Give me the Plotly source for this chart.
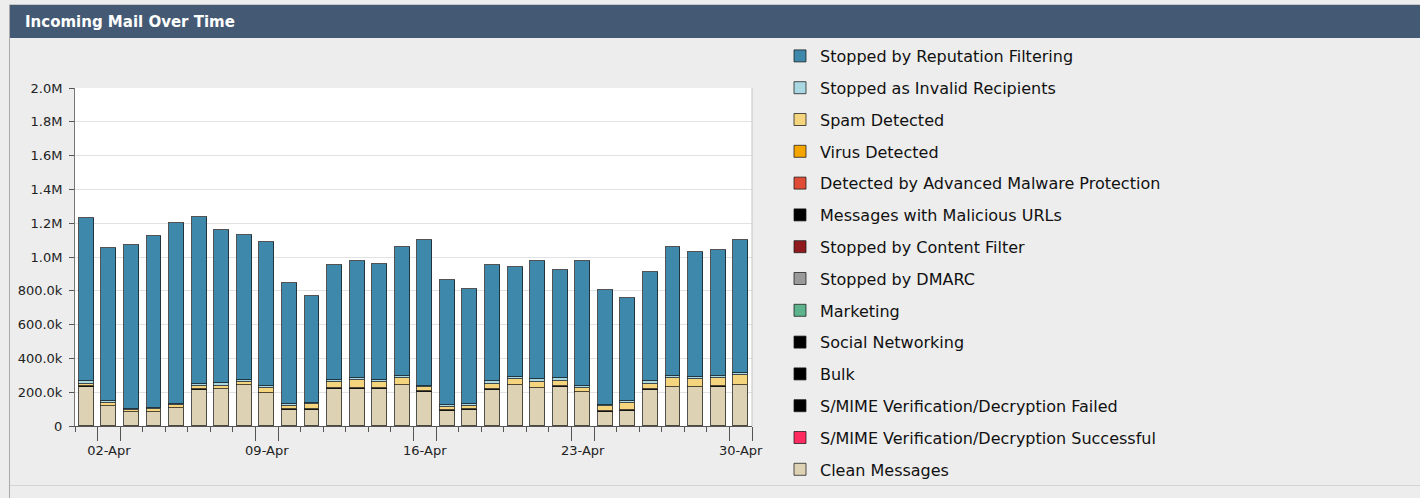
import plotly.graph_objects as go

# ---------------- data (thousands of messages) ----------------
days = ["01-Apr", "02-Apr", "03-Apr", "04-Apr", "05-Apr", "06-Apr", "07-Apr", "08-Apr",
        "09-Apr", "10-Apr", "11-Apr", "12-Apr", "13-Apr", "14-Apr", "15-Apr", "16-Apr",
        "17-Apr", "18-Apr", "19-Apr", "20-Apr", "21-Apr", "22-Apr", "23-Apr", "24-Apr",
        "25-Apr", "26-Apr", "27-Apr", "28-Apr", "29-Apr", "30-Apr"]
labeled_days = ["02-Apr", "09-Apr", "16-Apr", "23-Apr", "30-Apr"]

reputation = [964, 903, 968, 1018, 1068, 988, 910, 859, 850, 714,
              634, 682, 692, 690, 759, 862, 741, 680, 686, 649,
              698, 641, 737, 680, 614, 643, 761, 740, 746, 787]
invalid = [18, 10, 6, 6, 6, 11, 13, 14, 14, 12,
           8, 12, 12, 12, 16, 8, 8, 8, 16, 14,
           16, 14, 10, 8, 10, 16, 14, 10, 12, 12]
spam = [16, 19, 13, 15, 17, 21, 19, 16, 29, 22,
        30, 34, 46, 34, 38, 25, 22, 22, 32, 32,
        34, 32, 25, 28, 42, 32, 50, 46, 50, 58]
virus = [0] * 30
amp = [0] * 30
malicious_urls = [0] * 30
content_filter = [0] * 30
dmarc = [0] * 30
marketing = [0] * 30
social = [0] * 30
bulk = [3, 3, 3, 3, 3, 3, 3, 3, 3, 3,
        3, 3, 3, 3, 3, 3, 3, 3, 3, 3,
        3, 3, 3, 3, 3, 3, 3, 3, 3, 3]
smime_failed = [0] * 30
smime_success = [0] * 30
clean = [231, 116, 81, 81, 106, 215, 217, 241, 193, 95,
         97, 221, 221, 221, 241, 203, 89, 95, 215, 241,
         223, 233, 199, 85, 91, 215, 229, 229, 231, 241]

# stacking order: bottom first
series = [
    ("Clean Messages", clean, "#ded2b4"),
    ("S/MIME Verification/Decryption Successful", smime_success, "#ff2a5f"),
    ("S/MIME Verification/Decryption Failed", smime_failed, "#000000"),
    ("Bulk", bulk, "#000000"),
    ("Social Networking", social, "#000000"),
    ("Marketing", marketing, "#5db38b"),
    ("Stopped by DMARC", dmarc, "#9a9a9a"),
    ("Stopped by Content Filter", content_filter, "#8e1a1e"),
    ("Messages with Malicious URLs", malicious_urls, "#000000"),
    ("Detected by Advanced Malware Protection", amp, "#e04b36"),
    ("Virus Detected", virus, "#f5a500"),
    ("Spam Detected", spam, "#f4d47c"),
    ("Stopped as Invalid Recipients", invalid, "#a9d8e3"),
    ("Stopped by Reputation Filtering", reputation, "#3e89ab"),
]

y_ticks = [0, 200, 400, 600, 800, 1000, 1200, 1400, 1600, 1800, 2000]


def fmt(v):
    if v == 0:
        return "0"
    if v >= 1000:
        return f"{v / 1000:.1f}M"
    return f"{v:.1f}k"


# ---------------- layout geometry (pixels) ----------------
W, H = 1420, 498
L, R, T, B = 75, 752, 88, 426
PW, PH = R - L, B - T


def px(x):
    return (x - L) / PW


def py(y):
    return (B - y) / PH


FONT = "DejaVu Sans"
xs = list(range(len(days)))

fig = go.Figure()
n = len(series)
for i, (name, vals, col) in enumerate(series):
    fig.add_trace(go.Bar(
        x=xs, y=vals, name=name, width=0.66,
        marker=dict(color=col, line=dict(color="rgba(25,25,25,0.75)", width=1)),
        legendgroup=name, legendrank=n - i,
    ))

label_idx = [days.index(d) for d in labeled_days]
long_ticks = sorted(set([i - 0.5 for i in label_idx] + [i + 0.5 for i in label_idx]))

fig.update_layout(
    width=W, height=H,
    margin=dict(l=L, r=W - R, t=T, b=H - B, pad=0),
    paper_bgcolor="#ededed", plot_bgcolor="#ffffff",
    barmode="stack", bargap=0,
    font=dict(family=FONT, size=13, color="#222222"),
    showlegend=True,
    legend=dict(
        x=px(780), y=py(39), xanchor="left", yanchor="top",
        bgcolor="rgba(0,0,0,0)", font=dict(family=FONT, size=16, color="#111111"),
        tracegroupgap=8, itemclick=False, maxheight=480,
    ),
    xaxis=dict(
        range=[-0.5, len(days) - 0.5], tickmode="array", tickvals=long_ticks,
        ticktext=[""] * len(long_ticks), ticks="outside", ticklen=14,
        tickcolor="#555555", tickwidth=1, showgrid=False, zeroline=False,
        showline=True, linecolor="#555555", linewidth=1,
        minor=dict(ticks="outside", tick0=-0.5, dtick=1, ticklen=5,
                   tickcolor="#555555", tickwidth=1, showgrid=False),
        fixedrange=True,
    ),
    xaxis2=dict(
        overlaying="x", anchor="y", side="bottom",
        range=[-0.5, len(days) - 0.5], tickmode="array",
        tickvals=label_idx, ticktext=labeled_days,
        ticks="outside", ticklen=12, tickcolor="rgba(0,0,0,0)",
        showgrid=False, zeroline=False, showline=False,
        tickfont=dict(family=FONT, size=13, color="#222222"),
    ),
    yaxis=dict(
        range=[0, 2000], tickmode="array", tickvals=y_ticks,
        ticktext=[fmt(v) for v in y_ticks], ticks="outside", ticklen=5,
        ticklabelstandoff=4,
        tickcolor="#555555", showgrid=True, gridcolor="#e2e2e2", gridwidth=1,
        zeroline=False, showline=True, linecolor="#777777", linewidth=1,
        tickfont=dict(family=FONT, size=13, color="#222222"),
    ),
)

# invisible helper so xaxis2 is rendered
fig.add_trace(go.Scatter(x=[label_idx[0]], y=[0], xaxis="x2", mode="markers",
                         marker=dict(opacity=0), showlegend=False, hoverinfo="skip"))

# panel decorations: header bar, borders, right frame line
shapes = [
    dict(type="rect", xref="paper", yref="paper", x0=px(10), x1=px(W + 5),
         y0=py(38), y1=py(5), fillcolor="#445a74", line=dict(width=0), layer="below"),
    dict(type="line", xref="paper", yref="paper", x0=px(9.5), x1=px(9.5),
         y0=py(H), y1=py(4), line=dict(color="#aaaaaa", width=1)),
    dict(type="line", xref="paper", yref="paper", x0=px(9), x1=px(W + 5),
         y0=py(4.5), y1=py(4.5), line=dict(color="#c8c8c8", width=1)),
    dict(type="line", xref="paper", yref="paper", x0=px(10), x1=px(W + 5),
         y0=py(485.5), y1=py(485.5), line=dict(color="#d4d4d4", width=1)),
    dict(type="line", xref="x domain", yref="y domain", x0=1, x1=1, y0=0, y1=1,
         line=dict(color="#c4c4c4", width=1)),
]
fig.update_layout(shapes=shapes)

fig.add_annotation(
    text="<b>Incoming Mail Over Time</b>", xref="paper", yref="paper",
    x=px(23), y=py(22), xanchor="left", yanchor="middle", showarrow=False,
    font=dict(family=FONT, size=15, color="#ffffff"),
)

fig.write_html(
    "out.html",
    config={"displayModeBar": False},
    post_script="document.body.style.margin='0';document.body.style.padding='0';"
                "document.body.style.background='#ededed';",
)
